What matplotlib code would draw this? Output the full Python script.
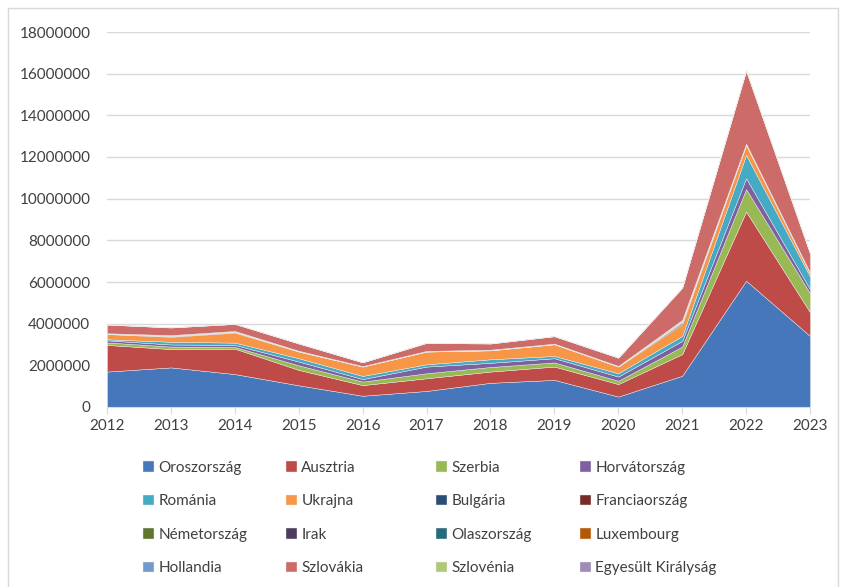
import matplotlib.pyplot as plt
from matplotlib.patches import Rectangle

# [1] 데이터 준비
years = [2012, 2013, 2014, 2015, 2016, 2017, 2018, 2019, 2020, 2021, 2022, 2023]

countries = ['Oroszország', 'Ausztria', 'Szerbia', 'Horvátország',
             'Románia', 'Ukrajna', 'Bulgária', 'Franciaország',
             'Németország', 'Irak', 'Olaszország', 'Luxembourg',
             'Hollandia', 'Szlovákia', 'Szlovénia', 'Egyesült Királyság']

oroszorszag = [1700000, 1900000, 1580000, 1040000, 540000, 770000, 1160000, 1300000, 500000, 1500000, 6060000, 3410000]
ausztria = [1280000, 880000, 1220000, 740000, 510000, 610000, 540000, 640000, 600000, 1040000, 3320000, 1140000]
szerbia = [120000, 120000, 80000, 220000, 170000, 240000, 220000, 200000, 160000, 360000, 1080000, 910000]
horvatorszag = [100000, 100000, 100000, 180000, 120000, 320000, 200000, 200000, 200000, 270000, 520000, 190000]
romania = [50000, 130000, 110000, 160000, 150000, 110000, 170000, 110000, 160000, 240000, 1120000, 610000]
ukrajna = [250000, 240000, 480000, 320000, 450000, 610000, 430000, 560000, 320000, 570000, 480000, 160000]
bulgaria = [10000, 20000, 20000, 10000, 5000, 5000, 5000, 5000, 5000, 60000, 15000, 10000]
franciaorszag = [5000, 10000, 15000, 5000, 3000, 5000, 5000, 5000, 5000, 30000, 10000, 5000]
nemetorszag = [5000, 10000, 10000, 5000, 3000, 5000, 5000, 5000, 5000, 30000, 10000, 5000]
irak = [5000, 10000, 10000, 5000, 3000, 5000, 5000, 5000, 5000, 20000, 5000, 5000]
olaszorszag = [5000, 10000, 10000, 5000, 3000, 5000, 5000, 5000, 5000, 20000, 5000, 5000]
luxembourg = [5000, 10000, 10000, 5000, 3000, 5000, 5000, 5000, 5000, 20000, 5000, 5000]
hollandia = [5000, 10000, 5000, 5000, 2000, 2000, 2000, 2000, 2000, 20000, 10000, 5000]
szlovakia = [415000, 365000, 335000, 345000, 181000, 383000, 293000, 353000, 393000, 1540000, 3490000, 900000]
szlovenia = [10000, 10000, 10000, 10000, 5000, 10000, 10000, 10000, 10000, 20000, 40000, 30000]
egyesult = [5000, 5000, 5000, 5000, 2000, 5000, 5000, 5000, 5000, 10000, 10000, 10000]

series = [oroszorszag, ausztria, szerbia, horvatorszag, romania, ukrajna,
          bulgaria, franciaorszag, nemetorszag, irak, olaszorszag, luxembourg,
          hollandia, szlovakia, szlovenia, egyesult]

colors = ['#4677BA', '#BE4B48', '#98B954', '#7D60A0', '#46AAC5', '#F79646',
          '#2C4D75', '#772C2A', '#5F7530', '#4D3B62', '#276A7C', '#B65708',
          '#729ACA', '#CD6B69', '#AFC97A', '#A08AB6']

y_ticks = list(range(0, 18000001, 2000000))

# [2] 시각화
plt.rcParams['font.family'] = ['Lato', 'DejaVu Sans']

fig = plt.figure(figsize=(8.41, 5.87), dpi=100)
ax = fig.add_axes([107 / 841, 180 / 587, 703 / 841, 375 / 587])

polys = ax.stackplot(years, series, colors=colors, labels=countries,
                     linewidth=0.3, edgecolor='#EEEEEE')

ax.set_xlim(2012, 2023)
ax.set_ylim(0, 18000000)
ax.set_xticks(years)
ax.set_xticklabels([str(y) for y in years], fontsize=11, color='#404040')
ax.set_yticks(y_ticks)
ax.set_yticklabels([str(v) for v in y_ticks], fontsize=11, color='#404040')

ax.grid(axis='y', color='#D9D9D9', linewidth=1)
ax.set_axisbelow(True)
for side in ['left', 'right', 'top']:
    ax.spines[side].set_visible(False)
ax.spines['bottom'].set_color('#D9D9D9')
ax.tick_params(axis='y', length=0, pad=12)
ax.tick_params(axis='x', length=5, color='#D9D9D9', pad=4)

# 범례 - 4열, 열마다 따로 배치
col_x = [143 / 841, 286 / 841, 436 / 841, 580 / 841]
for c in range(4):
    handles = [polys[r * 4 + c] for r in range(4)]
    labels = [countries[r * 4 + c] for r in range(4)]
    leg = fig.legend(handles, labels, loc='upper left',
                     bbox_to_anchor=(col_x[c], 1 - 461 / 587),
                     frameon=False, fontsize=11, labelcolor='#404040',
                     handlelength=0.7, handleheight=0.7, handletextpad=0.3,
                     labelspacing=1.27, borderaxespad=0, borderpad=0)

# 바깥 테두리
fig.patches.append(Rectangle((8 / 841, -0.01), 830 / 841, 1 - 8 / 587 + 0.01,
                             transform=fig.transFigure, fill=False,
                             edgecolor='#D9D9D9', linewidth=1))

fig.savefig('out.png', dpi=100)
